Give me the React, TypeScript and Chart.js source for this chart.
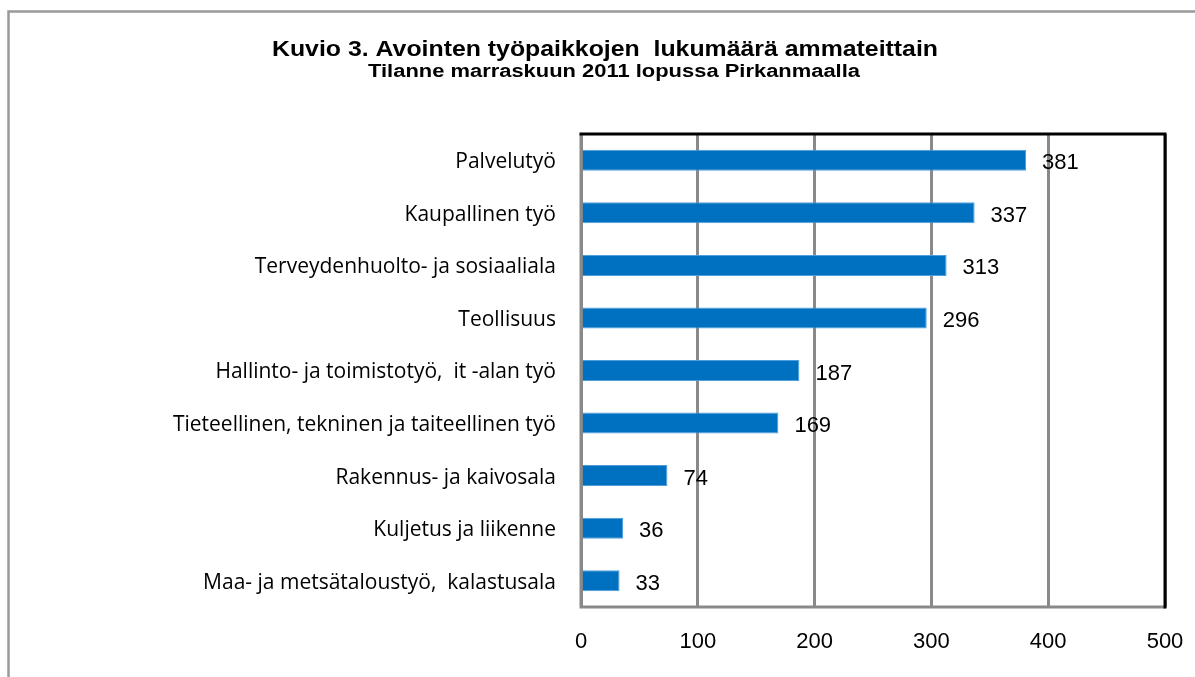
import React, { useEffect, useRef } from "react";
import { Chart, registerables } from "chart.js";

Chart.register(...registerables);

const categories = [
  "Palvelutyö",
  "Kaupallinen työ",
  "Terveydenhuolto- ja sosiaaliala",
  "Teollisuus",
  "Hallinto- ja toimistotyö,  it -alan työ",
  "Tieteellinen, tekninen ja taiteellinen työ",
  "Rakennus- ja kaivosala",
  "Kuljetus ja liikenne",
  "Maa- ja metsätaloustyö,  kalastusala",
];
const values = [381, 337, 313, 296, 187, 169, 74, 36, 33];
const xTicks = [0, 100, 200, 300, 400, 500];
const titleText = "Kuvio 3. Avointen työpaikkojen  lukumäärä ammateittain";
const subtitleText = "Tilanne marraskuun 2011 lopussa Pirkanmaalla";

const W = 1195;
const H = 677;

function drawStretched(ctx: any, text: string, cx: number, baseline: number, font: string, targetWidth: number) {
  ctx.save();
  ctx.font = font;
  const w = ctx.measureText(text).width;
  const sx = targetWidth / w;
  ctx.translate(cx, baseline);
  ctx.scale(sx, 1);
  ctx.textAlign = "center";
  ctx.textBaseline = "alphabetic";
  ctx.fillText(text, 0, 0);
  ctx.restore();
}

const framePlugin = {
  id: "frame",
  beforeDraw(chart: any) {
    const ctx = chart.ctx;
    ctx.save();
    ctx.fillStyle = "#ffffff";
    ctx.fillRect(0, 0, W, H);
    ctx.strokeStyle = "#9a9a9a";
    ctx.lineWidth = 2.5;
    ctx.beginPath();
    ctx.moveTo(8.5, H + 5);
    ctx.lineTo(8.5, 11.5);
    ctx.lineTo(W + 5, 11.5);
    ctx.stroke();
    ctx.fillStyle = "#000000";
    drawStretched(ctx, titleText, 605, 56, "bold 22px 'Liberation Sans', Arial, sans-serif", 666);
    drawStretched(ctx, subtitleText, 614, 77, "bold 18px 'Liberation Sans', Arial, sans-serif", 492);
    ctx.restore();
  },
  afterDatasetsDraw(chart: any) {
    const ctx = chart.ctx;
    const a = chart.chartArea;
    ctx.save();
    ctx.lineWidth = 3;
    ctx.strokeStyle = "#898989";
    ctx.beginPath();
    ctx.moveTo(a.left, a.top);
    ctx.lineTo(a.left, a.bottom);
    ctx.lineTo(a.right, a.bottom);
    ctx.stroke();
    ctx.strokeStyle = "#000000";
    ctx.beginPath();
    ctx.moveTo(a.left - 1.5, a.top);
    ctx.lineTo(a.right, a.top);
    ctx.lineTo(a.right, a.bottom + 1.5);
    ctx.stroke();
    const meta = chart.getDatasetMeta(0);
    ctx.fillStyle = "#000000";
    ctx.font = "22px 'Liberation Sans', Arial, sans-serif";
    ctx.textAlign = "left";
    ctx.textBaseline = "middle";
    meta.data.forEach((bar: any, i: number) => {
      ctx.fillText(String(values[i]), bar.x + 16, bar.y + 3);
    });
    ctx.restore();
  },
};

export default function App() {
  const ref = useRef<HTMLCanvasElement | null>(null);
  useEffect(() => {
    if (!ref.current) return;
    const chart = new Chart(ref.current, {
      type: "bar",
      data: {
        labels: categories,
        datasets: [
          {
            data: values,
            backgroundColor: "#0070C0",
            borderColor: "#4F9EDC",
            borderWidth: 1,
            barPercentage: 0.4,
            categoryPercentage: 1.0,
          },
        ],
      },
      options: {
        indexAxis: "y",
        responsive: false,
        animation: false,
        devicePixelRatio: 1,
        layout: { padding: { left: 0, top: 134, right: 30, bottom: 0 } },
        plugins: {
          legend: { display: false },
          title: { display: false },
          tooltip: { enabled: false },
        },
        scales: {
          x: {
            type: "linear",
            min: 0,
            max: 500,
            afterBuildTicks(scale: any) {
              scale.ticks = xTicks.map((v) => ({ value: v }));
            },
            afterFit(scale: any) {
              scale.height = 70;
              scale.paddingLeft = 0;
              scale.paddingRight = 0;
            },
            grid: { color: "#898989", lineWidth: 3, drawTicks: false },
            border: { display: false },
            ticks: {
              color: "#000000",
              padding: 22,
              font: { family: "'Liberation Sans', Arial, sans-serif", size: 22 },
            },
          },
          y: {
            afterFit(scale: any) {
              scale.width = 581;
              scale.paddingTop = 0;
              scale.paddingBottom = 0;
            },
            grid: { display: false, drawTicks: false },
            border: { display: false },
            ticks: {
              color: "#000000",
              padding: 25,
              labelOffset: 2,
              font: { family: "'Open Sans', sans-serif", size: 21 },
            },
          },
        },
      },
      plugins: [framePlugin],
    });
    return () => chart.destroy();
  }, []);
  return (
    <div style={{ position: "absolute", left: 0, top: 0, width: W, height: H, background: "#fff" }}>
      <canvas ref={ref} width={W} height={H} style={{ width: W, height: H, display: "block" }} />
    </div>
  );
}
